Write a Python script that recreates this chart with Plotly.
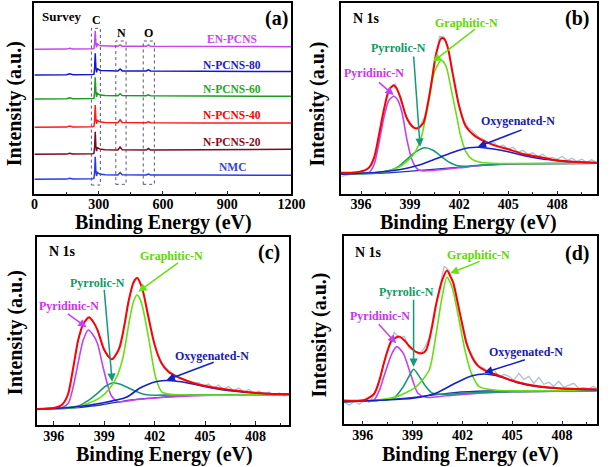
import numpy as np
import plotly.graph_objects as go

FONT = "Liberation Serif"

# ---------------- Panel (a): survey spectra ----------------
survey_energy = [0, 150, 165, 180, 272, 278, 281, 284, 287, 290, 294, 299, 310, 330,
                 390, 400, 410, 522, 532, 542, 800, 1200]
survey_names = ["EN-PCNS", "N-PCNS-80", "N-PCNS-60", "N-PCNS-40", "N-PCNS-20", "NMC"]
survey_en_pcns = [145, 145.2, 146, 145.3, 145.5, 145.8, 151, 163.6, 151, 147, 150.5, 149.5,
                  148.5, 148.2, 148, 149.5, 148, 148, 149.5, 148, 147.8, 147.6]
survey_npcns80 = [119.3, 119.5, 120.5, 119.6, 119.8, 120.2, 126, 141, 127, 122, 125.8, 124.8,
                  123.8, 123.5, 123.3, 125.3, 123.4, 123.3, 124.5, 123.3, 123, 122.8]
survey_npcns60 = [95.3, 95.5, 96.5, 95.6, 95.8, 96.2, 102, 117, 103, 97.5, 101, 100,
                  99.2, 98.8, 98.6, 100.6, 98.8, 98.6, 99.6, 98.6, 98.3, 98.1]
survey_npcns40 = [67, 67.2, 68.2, 67.3, 67.5, 68, 74, 89.3, 75, 70.5, 74, 73,
                  72.2, 71.8, 71.6, 74.6, 71.8, 71.6, 72.6, 71.6, 71.3, 71.2]
survey_npcns20 = [40, 40.2, 41, 40.3, 40.5, 41, 47, 62.6, 48, 43.2, 47, 46,
                  45, 44.6, 44.3, 47.3, 44.6, 44.3, 45.8, 44.3, 44.6, 45]
survey_nmc = [15, 15.2, 16, 15.3, 15.5, 16, 22, 37.6, 23, 18.3, 22, 21,
              20, 19.6, 19.3, 21.8, 19.5, 19.3, 20.3, 19.3, 19.2, 19]
survey_series = [survey_en_pcns, survey_npcns80, survey_npcns60,
                 survey_npcns40, survey_npcns20, survey_nmc]
survey_colors = ["#c844ee", "#1418c8", "#1c9a22", "#ff1a1a", "#7a0a22", "#2a3ae6"]
survey_label_colors = ["#cc44ee", "#1a1acc", "#22aa22", "#ff0000", "#8b0a1a", "#3344dd"]
survey_label_h = [155, 129.3, 105.3, 79.3, 52.6, 27.6]
survey_label_e = 924

# ---------------- Panel (b): N 1s ----------------
b_raw_e = np.round(394.8 + 0.3 * np.arange(53), 2)
b_raw = [18, 19, 20.5, 21, 22.5, 24, 29, 42, 68, 92, 107, 110, 97, 80, 70, 66, 68, 78,
         103, 134, 158, 157, 141, 114, 89, 73, 66, 62, 57, 55, 51, 52, 48, 49, 45, 47,
         42, 44, 40, 41.5, 38, 40, 36.5, 37, 35, 38, 34, 36, 33, 35, 32, 34.5, 32]
b_env_e = [394.75, 395.5, 396.2, 396.5, 396.8, 397.1, 397.4, 397.7, 398.0, 398.2, 398.4,
           398.8, 399.2, 399.45, 399.8, 400.2, 400.6, 400.9, 401.1, 401.3, 401.6, 402.0,
           402.4, 403.0, 404.0, 405.0, 406.0, 407.0, 408.0, 409.0, 410.42]
b_env = [21.5, 21.8, 24, 27, 37, 60, 85, 104, 109, 105, 97, 76, 67, 66, 71, 101, 141,
         156, 155, 147, 121, 88, 68, 58, 50, 45, 40, 37, 34, 32.5, 31.5]
b_pyd_e = [394.75, 396.0, 396.5, 396.8, 397.1, 397.4, 397.7, 398.0, 398.25, 398.5, 398.8,
           399.1, 399.4, 399.7, 400.5, 402.0, 403.5, 405.0, 410.42]
b_pyd = [20, 21, 22, 30, 52, 77, 94, 98, 94, 82, 55, 35, 26, 23.5, 24, 26.5, 29, 30, 31]
b_pyr_e = [394.75, 397.0, 397.8, 398.3, 398.8, 399.3, 399.9, 400.4, 400.9, 401.4, 401.9,
           402.4, 403.5, 405.0, 410.42]
b_pyr = [20, 21.5, 24, 28, 35, 42, 46.5, 44, 38, 32, 28.5, 28, 29.5, 30.5, 31]
b_gra_e = [394.75, 396.5, 397.5, 398.3, 398.8, 399.3, 399.7, 400.1, 400.5, 400.9, 401.2,
           401.5, 401.8, 402.1, 402.4, 402.8, 403.3, 404.0, 410.42]
b_gra = [20, 21, 23, 27, 33, 42, 58, 90, 123, 134, 128, 106, 82, 58, 43, 35, 32, 31, 31]
b_oxy_e = [394.75, 397.0, 398.5, 399.5, 400.5, 401.3, 402.0, 402.6, 403.2, 404.0, 405.0,
           406.0, 407.0, 408.0, 409.0, 410.42]
b_oxy = [20, 22, 25, 29, 35, 40, 44, 46.5, 47, 45.5, 42.5, 38.5, 35.5, 33.7, 32.5, 31.5]
b_bg_e = [394.75, 397.0, 398.5, 400.0, 401.5, 403.0, 404.5, 406.0, 410.42]
b_bg = [20, 21, 22.5, 24.5, 26.5, 28.5, 30, 30.7, 31]

# ---------------- Panel (c): N 1s ----------------
c_raw_e = np.round(395.0 + 0.3 * np.arange(51), 2)
c_raw = [15, 15.5, 16.5, 16, 17.5, 20, 28, 52, 82, 100, 108, 105, 95, 79, 69, 66, 73, 92,
         121, 141, 148, 136, 111, 87, 70, 60, 55, 51, 48, 46, 44.5, 42, 42.5, 39, 41, 37,
         40, 35.5, 38.5, 34, 37, 33, 35.5, 32, 34, 30.5, 33, 29.5, 32, 29, 31]
c_env_e = [395.0, 396.0, 396.5, 396.85, 397.15, 397.45, 397.75, 398.1, 398.35, 398.6, 399.0,
           399.45, 399.9, 400.2, 400.45, 400.75, 400.95, 401.25, 401.6, 402.0, 402.4, 402.8,
           403.5, 404.5, 405.5, 406.5, 407.5, 408.5, 410.0]
c_env = [16, 17, 20.5, 31, 57, 85, 101, 107.7, 103, 95, 75, 65.7, 77, 100, 124, 143, 147,
         137, 110, 80, 62, 53.5, 47, 41, 37.5, 35, 33, 31.6, 30.7]
c_pyd_e = [395.0, 396.5, 396.86, 397.15, 397.44, 397.75, 398.05, 398.3, 398.59, 398.97,
           399.4, 399.8, 401.0, 402.6, 405.0, 410.0]
c_pyd = [16, 17.5, 21.7, 38, 61.7, 85, 95, 91, 81.7, 55, 30, 23.3, 25.5, 27.7, 29.5, 30.5]
c_pyr_e = [395.0, 397.44, 398.0, 398.59, 399.1, 399.55, 400.0, 400.7, 401.2, 401.66, 403.0, 410.0]
c_pyr = [16, 19, 24, 31.7, 39, 42.3, 40.5, 35, 31.5, 30, 30, 30.5]
c_gra_e = [395.0, 397.44, 398.78, 399.3, 399.74, 400.12, 400.5, 400.75, 400.94, 401.1,
           401.28, 401.66, 402.05, 402.43, 403.0, 410.0]
c_gra = [16, 18, 27.7, 36, 48, 68, 105, 124, 130, 127, 118, 85, 48, 33, 30.7, 30.5]
c_oxy_e = [395.0, 397.0, 398.78, 400.31, 401.1, 401.66, 402.0, 402.43, 403.0, 403.58,
           404.54, 405.5, 406.46, 408.38, 410.0]
c_oxy = [16, 17.5, 21.7, 27.7, 36.7, 41, 43, 44.3, 44.3, 43.3, 40, 36.7, 34.3, 31.7, 30.7]
c_bg_e = [395.0, 396.86, 398.78, 400.5, 402.6, 404.5, 410.0]
c_bg = [16, 16.7, 20, 25, 28, 30, 30.5]

# ---------------- Panel (d): N 1s ----------------
d_raw_e = np.round(394.9 + 0.3 * np.arange(52), 2)
d_raw = [22, 19, 23, 20, 24, 22, 30, 43, 64, 80, 92, 86, 88, 76, 74, 70, 76, 86, 112, 136,
         158, 154, 137, 113, 93, 75, 66, 58, 56, 52, 55, 47, 50, 48, 44, 51, 45, 48, 41, 47,
         40, 42, 38, 43, 37, 39, 41, 36, 37, 35.5, 38, 35]
d_env_e = [394.87, 396.1, 396.7, 397.0, 397.27, 397.5, 397.76, 398.2, 398.5, 398.83, 399.2,
           399.57, 399.8, 400.0, 400.2, 400.39, 400.6, 400.78, 401.07, 401.3, 401.46, 401.65,
           401.85, 402.05, 402.24, 402.5, 402.73, 403.0, 403.32, 403.7, 404.1, 404.88,
           405.85, 406.8, 407.8, 409.0, 410.09]
d_env = [23.7, 24.3, 31, 44, 61, 74, 84.3, 87.7, 84, 77.7, 72.5, 71, 74, 84.3, 100, 117.7,
         133, 144, 153.7, 147, 141, 127, 111, 95, 81, 70, 62.7, 57.5, 54.3, 51.5, 49.3,
         44.3, 40, 37.5, 36, 35.3, 35]
d_pyd_e = [394.87, 396.3, 396.68, 397.0, 397.27, 397.76, 398.05, 398.44, 398.93, 399.32,
           399.8, 401.0, 403.0, 405.0, 410.09]
d_pyd = [22.7, 23.5, 24.3, 34, 47.7, 71, 77.7, 71, 47.7, 31, 27, 28.5, 31, 32.5, 33.7]
d_pyr_e = [394.87, 397.0, 397.85, 398.44, 398.83, 399.06, 399.41, 399.8, 400.2, 401.0,
           403.0, 410.09]
d_pyr = [22.7, 24, 26, 37.7, 49.3, 55, 47.7, 37.7, 31, 30, 32, 33.7]
d_gra_e = [394.87, 397.0, 398.05, 399.22, 400.0, 400.39, 400.78, 401.07, 401.37, 401.76,
           402.15, 402.54, 403.02, 403.9, 410.09]
d_gra = [22.7, 24.5, 27.7, 37.7, 54.3, 87.7, 127.7, 147, 137.7, 107.7, 74.3, 51, 37.7, 34.3, 34]
d_oxy_e = [394.87, 397.0, 399.02, 400.39, 401.56, 402.54, 403.32, 404.29, 405.46, 406.83,
           408.78, 410.09]
d_oxy = [22.7, 24, 26, 31, 41, 48.3, 50.3, 47.7, 41, 37, 35, 34.3]
d_bg_e = [394.87, 397.0, 399.5, 401.5, 403.5, 410.09]
d_bg = [22.7, 24, 27.7, 31.7, 33.3, 33.7]

# styles
C_RAW = "#b4bfd3"
C_ENV = "#ff0000"
C_PYD = "#c540f2"
C_PYR = "#15997a"
C_GRA = "#66e010"
C_OXY = "#1420c8"
C_BG = "#2233b0"
T_PYD = "#cc33ee"
T_PYR = "#119966"
T_GRA = "#60d800"
T_OXY = "#1a1aaa"

fig = go.Figure()

# panel a traces
for name, ys, col in zip(survey_names, survey_series, survey_colors):
    fig.add_trace(go.Scatter(x=survey_energy, y=ys, mode="lines", name=name,
                             line=dict(color=col, width=1.5), xaxis="x", yaxis="y"))


def add_nls(xa, ya, raw_e, raw, env_e, env, pyd_e, pyd, pyr_e, pyr, gra_e, gra, oxy_e, oxy, bg_e, bg):
    fig.add_trace(go.Scatter(x=raw_e, y=raw, mode="lines", line=dict(color=C_RAW, width=1.3),
                             xaxis=xa, yaxis=ya))
    sp = dict(shape="spline", smoothing=0.7)
    fig.add_trace(go.Scatter(x=bg_e, y=bg, mode="lines", line=dict(color=C_BG, width=1.3, **sp),
                             xaxis=xa, yaxis=ya))
    fig.add_trace(go.Scatter(x=pyd_e, y=pyd, mode="lines", line=dict(color=C_PYD, width=1.6, **sp),
                             xaxis=xa, yaxis=ya))
    fig.add_trace(go.Scatter(x=pyr_e, y=pyr, mode="lines", line=dict(color=C_PYR, width=1.6, **sp),
                             xaxis=xa, yaxis=ya))
    fig.add_trace(go.Scatter(x=gra_e, y=gra, mode="lines", line=dict(color=C_GRA, width=1.6, **sp),
                             xaxis=xa, yaxis=ya))
    fig.add_trace(go.Scatter(x=oxy_e, y=oxy, mode="lines", line=dict(color=C_OXY, width=1.6, **sp),
                             xaxis=xa, yaxis=ya))
    fig.add_trace(go.Scatter(x=env_e, y=env, mode="lines", line=dict(color=C_ENV, width=2, **sp),
                             xaxis=xa, yaxis=ya))


add_nls("x2", "y2", b_raw_e, b_raw, b_env_e, b_env, b_pyd_e, b_pyd, b_pyr_e, b_pyr,
        b_gra_e, b_gra, b_oxy_e, b_oxy, b_bg_e, b_bg)
add_nls("x3", "y3", c_raw_e, c_raw, c_env_e, c_env, c_pyd_e, c_pyd, c_pyr_e, c_pyr,
        c_gra_e, c_gra, c_oxy_e, c_oxy, c_bg_e, c_bg)
add_nls("x4", "y4", d_raw_e, d_raw, d_env_e, d_env, d_pyd_e, d_pyd, d_pyr_e, d_pyr,
        d_gra_e, d_gra, d_oxy_e, d_oxy, d_bg_e, d_bg)


def xax(domain, anchor, rng, dtick, tick0, mdtick, standoff):
    return dict(domain=domain, anchor=anchor, range=rng, dtick=dtick, tick0=tick0,
                showline=True, mirror=True, linecolor="black", linewidth=1.6,
                ticks="inside", ticklen=4, tickwidth=1.3, tickcolor="#222244",
                showgrid=False, zeroline=False, ticklabelstandoff=standoff,
                tickfont=dict(family=FONT, size=14, color="black", weight="bold"),
                minor=dict(ticks="inside", ticklen=2.5, tickwidth=1, dtick=mdtick, tick0=tick0,
                           tickcolor="#222244", showgrid=False))


def yax(domain, anchor, rng):
    return dict(domain=domain, anchor=anchor, range=rng, showline=True, mirror=True,
                linecolor="black", linewidth=1.6, ticks="", showticklabels=False,
                showgrid=False, zeroline=False)


fig.update_layout(
    width=614, height=467, margin=dict(l=0, r=0, t=0, b=0), showlegend=False,
    paper_bgcolor="white", plot_bgcolor="white",
    xaxis=xax([0.0526, 0.4832], "y", [0, 1200], 300, 0, 150, -4),
    yaxis=yax([0.5839, 0.9929], "x", [0, 191]),
    xaxis2=xax([0.5656, 0.9946], "y2", [394.75, 410.42], 3, 396, 1.5, -4),
    yaxis2=yax([0.5839, 0.9929], "x2", [0, 191]),
    xaxis3=xax([0.0570, 0.4793], "y3", [395.0, 410.0], 3, 396, 1.5, -3),
    yaxis3=yax([0.0899, 0.4931], "x3", [0, 188.3]),
    xaxis4=xax([0.5712, 0.9946], "y4", [394.87, 410.09], 3, 396, 1.5, -3),
    yaxis4=yax([0.0914, 0.4946], "x4", [0, 188.3]),
)

ann = []


def label(xr, yr, x, y, text, size, color="black", xanchor="center"):
    ann.append(dict(xref=xr, yref=yr, x=x, y=y, text=text, showarrow=False,
                    xanchor=xanchor, yanchor="middle",
                    font=dict(family=FONT, size=size, color=color, weight="bold")))


def arrow(xr, yr, tail, tip, color):
    ann.append(dict(xref=xr, yref=yr, axref=xr, ayref=yr, x=tip[0], y=tip[1],
                    ax=tail[0], ay=tail[1], text="", showarrow=True, arrowhead=2,
                    arrowsize=1.1, arrowwidth=1.5, arrowcolor=color))


# axis titles
for (px, py) in [(11.5, 104), (322.5, 104), (12.5, 333), (325.5, 335)]:
    ann.append(dict(xref="paper", yref="paper", x=px / 614, y=1 - py / 467,
                    text="Intensity (a.u.)", textangle=-90, showarrow=False,
                    xanchor="center", yanchor="middle",
                    font=dict(family=FONT, size=20, color="black", weight="bold")))
for (px, py) in [(165, 222.5), (479, 222.5), (166, 454), (481, 454)]:
    ann.append(dict(xref="paper", yref="paper", x=px / 614, y=1 - py / 467,
                    text="Binding Energy (eV)", showarrow=False,
                    xanchor="center", yanchor="middle",
                    font=dict(family=FONT, size=20, color="black", weight="bold")))

# panel a labels
label("x", "y", 27, 177.6, "Survey", 13, xanchor="left")
label("x", "y", 1132, 176, "(a)", 20)
label("x", "y", 288, 174.3, "C", 12)
label("x", "y", 405, 161, "N", 12)
label("x", "y", 534, 161, "O", 12)
for name, h, col in zip(survey_names, survey_label_h, survey_label_colors):
    label("x", "y", survey_label_e, h, name, 11.5, col)

shapes = []
for (x0, x1, y0, y1) in [(266, 308, 9.3, 166), (380, 428, 10, 153.3), (508, 560, 10, 153.3)]:
    shapes.append(dict(type="rect", xref="x", yref="y", x0=x0, x1=x1, y0=y0, y1=y1,
                       line=dict(color="#555570", width=1, dash="dot")))

# panel b labels
label("x2", "y2", 395.4, 176.3, "N 1s", 14, xanchor="left")
label("x2", "y2", 409.19, 176.3, "(b)", 20)
label("x2", "y2", 402.45, 171.3, "Graphitic-N", 12, T_GRA)
arrow("x2", "y2", (403.06, 166.3), (400.4, 132.6), C_GRA)
label("x2", "y2", 398.28, 146, "Pyrrolic-N", 12, T_PYR)
arrow("x2", "y2", (399.21, 139.3), (399.61, 47.6), C_PYR)
label("x2", "y2", 396.8, 121.6, "Pyridinic-N", 12, T_PYD)
arrow("x2", "y2", (397.0, 113.3), (397.99, 99.3), C_PYD)
label("x2", "y2", 405.58, 73.6, "Oxygenated-N", 12, T_OXY)
arrow("x2", "y2", (405.92, 65), (403.14, 47.6), C_OXY)

# panel c labels
label("x3", "y3", 395.58, 173.3, "N 1s", 14, xanchor="left")
label("x3", "y3", 408.82, 172.3, "(c)", 20)
label("x3", "y3", 403.0, 169, "Graphitic-N", 12, T_GRA)
arrow("x3", "y3", (403.48, 163.3), (401.03, 133.3), C_GRA)
label("x3", "y3", 398.6, 142.3, "Pyrrolic-N", 12, T_PYR)
arrow("x3", "y3", (398.99, 136.7), (399.47, 43.3), C_PYR)
label("x3", "y3", 396.93, 119, "Pyridinic-N", 12, T_PYD)
arrow("x3", "y3", (396.74, 112.3), (397.95, 97.7), C_PYD)
label("x3", "y3", 405.41, 69, "Oxygenated-N", 12, T_OXY)
arrow("x3", "y3", (405.6, 63.3), (402.71, 45), C_OXY)

# panel d labels
label("x4", "y4", 395.41, 171.6, "N 1s", 14, xanchor="left")
label("x4", "y4", 408.88, 171, "(d)", 20)
label("x4", "y4", 402.97, 169.3, "Graphitic-N", 12, T_GRA)
arrow("x4", "y4", (403.13, 163.6), (401.27, 151), C_GRA)
label("x4", "y4", 398.63, 132.6, "Pyrrolic-N", 12, T_PYR)
arrow("x4", "y4", (399.06, 126), (399.06, 57.6), C_PYR)
label("x4", "y4", 397.04, 108.3, "Pyridinic-N", 12, T_PYD)
arrow("x4", "y4", (396.88, 101.6), (398.01, 81), C_PYD)
label("x4", "y4", 405.85, 72.6, "Oxygenated-N", 12, T_OXY)
arrow("x4", "y4", (405.85, 65), (403.32, 51.6), C_OXY)

fig.update_layout(annotations=ann, shapes=shapes)
fig.write_html("out.html")
